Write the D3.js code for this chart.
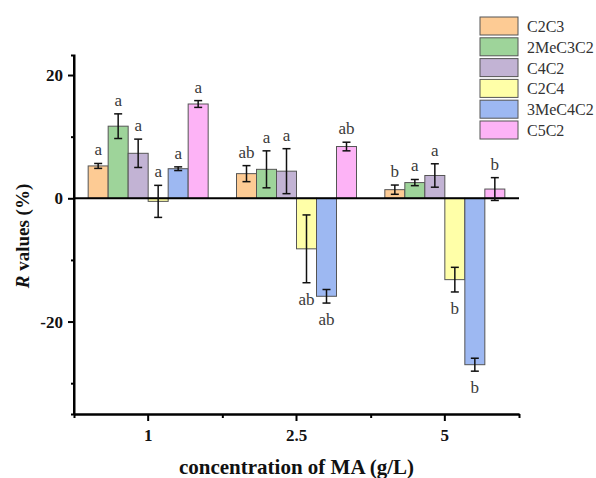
<!DOCTYPE html>
<html>
<head>
<meta charset="utf-8">
<script src="https://cdn.jsdelivr.net/npm/d3@7"></script>
<style>
body { margin:0; background:#fff; }
svg { font-family: "Liberation Serif", "Times New Roman", serif; }
.tick text { font-family: "Liberation Serif", "Times New Roman", serif; font-weight: bold; font-size: 17px; fill:#111; }
</style>
</head>
<body>
<svg width="596" height="478"></svg>
<script>
// data
const concentrations = ["1", "2.5", "5"]
const series = ["C2C3", "2MeC3C2", "C4C2", "C2C4", "3MeC4C2", "C5C2"]
const colors = ["#FDCB94", "#9ED49A", "#C2B3D4", "#FFFFA8", "#9DB8F2", "#FDB3F6"]

const means = [
	[5.25, 11.7, 7.3, -0.5, 4.8, 15.3],
	[4.0, 4.7, 4.4, -8.2, -15.9, 8.4],
	[1.4, 2.55, 3.7, -13.2, -27.0, 1.5]
]
const errors = [
	[0.4, 2.0, 2.3, 2.6, 0.3, 0.55],
	[1.3, 3.0, 3.65, 5.5, 1.1, 0.7],
	[0.75, 0.5, 1.9, 2.0, 1.05, 1.85]
]
const letters = [
	["a", "a", "a", "a", "a", "a"],
	["ab", "a", "a", "ab", "ab", "ab"],
	["b", "a", "a", "b", "b", "b"]
]
const majorY = [-20, 0, 20]
const minorY = [-30, -10, 10]

const svg = d3.select("svg")

const rows = []
concentrations.forEach((c, i) => {
	series.forEach((s, j) => {
		rows.push({c: c, s: s, v: means[i][j], e: errors[i][j], l: letters[i][j], color: colors[j]})
	})
})

//scales
const x = d3.scaleBand()
	.domain(concentrations)
	.range([74, 519])

const xs = d3.scaleBand()
	.domain(series)
	.range([-60, 60])

const y = d3.scaleLinear()
	.domain([-35, 23.25])
	.range([414, 55])

//bars
svg.append("g")
	.selectAll("rect")
	.data(rows)
	.enter()
	.append("rect")
	.attr("x", d => x(d.c) + x.bandwidth() / 2 + xs(d.s))
	.attr("width", xs.bandwidth())
	.attr("y", d => Math.min(y(d.v), y(0)))
	.attr("height", d => Math.abs(y(d.v) - y(0)))
	.attr("fill", d => d.color)
	.attr("stroke", "#555")
	.attr("stroke-width", 1)

//zero line
svg.append("line")
	.attr("x1", 74)
	.attr("x2", 519)
	.attr("y1", y(0))
	.attr("y2", y(0))
	.attr("stroke", "#000")
	.attr("stroke-width", 2)

//error bars
const cx = d => x(d.c) + x.bandwidth() / 2 + xs(d.s) + xs.bandwidth() / 2
const err = svg.append("g")
	.selectAll("g")
	.data(rows)
	.enter()
	.append("g")
	.attr("stroke", "#111")
	.attr("stroke-width", 1.5)

err.append("line")
	.attr("x1", cx).attr("x2", cx)
	.attr("y1", d => y(d.v + d.e))
	.attr("y2", d => y(d.v - d.e))
err.append("line")
	.attr("x1", d => cx(d) - 4).attr("x2", d => cx(d) + 4)
	.attr("y1", d => y(d.v + d.e)).attr("y2", d => y(d.v + d.e))
err.append("line")
	.attr("x1", d => cx(d) - 4).attr("x2", d => cx(d) + 4)
	.attr("y1", d => y(d.v - d.e)).attr("y2", d => y(d.v - d.e))

//significance letters
svg.append("g")
	.selectAll("text")
	.data(rows)
	.enter()
	.append("text")
	.attr("x", cx)
	.attr("y", d => d.v > -2 ? y(d.v + d.e) - 8 : y(d.v - d.e) + 22)
	.attr("text-anchor", "middle")
	.attr("font-size", 17)
	.attr("fill", "#3a3a3a")
	.text(d => d.l)

//axes
const yAxis = svg.append("g")
	.attr("transform", "translate(74,0)")
	.attr("font-family", null)
	.call(d3.axisLeft(y).tickValues(majorY).tickSize(6).tickPadding(5).tickFormat(d => String(d)))
svg.append("g")
	.attr("transform", "translate(74,0)")
	.call(d3.axisLeft(y).tickValues(minorY).tickSize(3).tickFormat(""))

const xAxis = svg.append("g")
	.attr("transform", "translate(0,414)")
	.call(d3.axisBottom(x).tickSize(7).tickPadding(8).tickSizeOuter(0))
const xMinor = d3.scaleLinear().domain([0, 3]).range([74, 519])
svg.append("g")
	.attr("transform", "translate(0,414)")
	.call(d3.axisBottom(xMinor).tickValues([0, 1, 2, 3]).tickSize(4).tickFormat("").tickSizeOuter(0))

svg.selectAll(".domain").attr("stroke", "#000").attr("stroke-width", 2)
svg.selectAll(".tick line").attr("stroke", "#000").attr("stroke-width", 2)
yAxis.select(".domain").attr("d", "M0,55V414")

//axis titles
svg.append("text")
	.attr("x", 296.5)
	.attr("y", 474)
	.attr("text-anchor", "middle")
	.attr("font-size", 21)
	.attr("font-weight", "bold")
	.attr("fill", "#111")
	.text("concentration of MA (g/L)")

const yTitle = svg.append("text")
	.attr("transform", "translate(29,236) rotate(-90)")
	.attr("text-anchor", "middle")
	.attr("font-size", 19)
	.attr("font-weight", "bold")
	.attr("fill", "#111")
yTitle.append("tspan").attr("font-style", "italic").text("R")
yTitle.append("tspan").text(" values (%)")

//legend
const legend = svg.append("g")
	.selectAll("g")
	.data(series)
	.enter()
	.append("g")
	.attr("transform", (d, i) => `translate(480,${17 + i * 20.8})`)

legend.append("rect")
	.attr("width", 38)
	.attr("height", 18)
	.attr("fill", (d, i) => colors[i])
	.attr("stroke", "#555")
	.attr("stroke-width", 1)

legend.append("text")
	.attr("x", 47)
	.attr("y", 15)
	.attr("font-size", 16)
	.attr("fill", "#333")
	.text(d => d)
</script>
</body>
</html>
